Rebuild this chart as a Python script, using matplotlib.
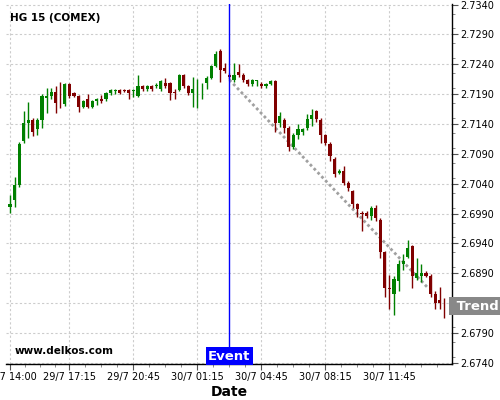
import matplotlib
matplotlib.use("Agg")
import matplotlib.pyplot as plt
import matplotlib.transforms as mtransforms
from matplotlib.ticker import FixedLocator, MultipleLocator, FuncFormatter

opens = [2.7001, 2.7012, 2.7037, 2.7112, 2.7142, 2.7147, 2.7131, 2.7147, 2.7183, 2.7187,
         2.7193, 2.7174, 2.7173, 2.7207, 2.7192, 2.7187, 2.7168, 2.7182, 2.7168, 2.7178,
         2.7182, 2.7182, 2.7192, 2.7195, 2.7197, 2.7197, 2.7197, 2.7195, 2.7187, 2.7203,
         2.7198, 2.7203, 2.7203, 2.7198, 2.7208, 2.7208, 2.7194, 2.7197, 2.7222, 2.7203,
         2.7192, 2.7203, 2.7203, 2.7208, 2.7217, 2.7237, 2.7263, 2.7233, 2.7222, 2.7213,
         2.7227, 2.7222, 2.7213, 2.7207, 2.7212, 2.7207, 2.7203, 2.7207, 2.7212, 2.7142,
         2.7147, 2.7133, 2.7102, 2.7122, 2.7127, 2.7134, 2.7149, 2.7161, 2.7147, 2.7122,
         2.7107, 2.7081, 2.7058, 2.7062, 2.7042, 2.7027, 2.7006, 2.6991, 2.6991, 2.6986,
         2.7000, 2.6980, 2.6926, 2.6865, 2.6856, 2.6877, 2.6905, 2.6917, 2.6936, 2.6882,
         2.6886, 2.6891, 2.6886, 2.6856, 2.6846, 2.6837]
highs = [2.7021, 2.7051, 2.7110, 2.7161, 2.7177, 2.7150, 2.7150, 2.7190, 2.7201, 2.7200,
         2.7204, 2.7211, 2.7209, 2.7209, 2.7194, 2.7189, 2.7180, 2.7190, 2.7180, 2.7184,
         2.7188, 2.7194, 2.7199, 2.7199, 2.7199, 2.7199, 2.7199, 2.7199, 2.7222, 2.7206,
         2.7206, 2.7206, 2.7208, 2.7214, 2.7217, 2.7211, 2.7198, 2.7224, 2.7224, 2.7206,
         2.7219, 2.7215, 2.7208, 2.7220, 2.7239, 2.7262, 2.7266, 2.7243, 2.7225, 2.7242,
         2.7240, 2.7225, 2.7215, 2.7216, 2.7214, 2.7210, 2.7209, 2.7214, 2.7213, 2.7160,
         2.7150, 2.7136, 2.7125, 2.7140, 2.7133, 2.7156, 2.7165, 2.7163, 2.7150, 2.7124,
         2.7110, 2.7084, 2.7064, 2.7069, 2.7045, 2.7029, 2.7008, 2.6995, 2.6994, 2.7002,
         2.7005, 2.6982, 2.6928, 2.6887, 2.6885, 2.6912, 2.6922, 2.6946, 2.6938, 2.6915,
         2.6905, 2.6893, 2.6889, 2.6860, 2.6867, 2.6848]
lows = [2.6991, 2.7001, 2.7035, 2.7108, 2.7117, 2.7120, 2.7122, 2.7133, 2.7159, 2.7182,
        2.7159, 2.7166, 2.7170, 2.7184, 2.7185, 2.7160, 2.7166, 2.7166, 2.7166, 2.7172,
        2.7175, 2.7178, 2.7188, 2.7190, 2.7190, 2.7193, 2.7182, 2.7186, 2.7185, 2.7195,
        2.7195, 2.7195, 2.7200, 2.7195, 2.7200, 2.7180, 2.7182, 2.7195, 2.7200, 2.7188,
        2.7169, 2.7167, 2.7182, 2.7198, 2.7215, 2.7235, 2.7210, 2.7226, 2.7215, 2.7210,
        2.7219, 2.7210, 2.7204, 2.7203, 2.7204, 2.7200, 2.7200, 2.7205, 2.7127, 2.7135,
        2.7125, 2.7095, 2.7098, 2.7115, 2.7122, 2.7130, 2.7137, 2.7143, 2.7108, 2.7104,
        2.7078, 2.7052, 2.7056, 2.7038, 2.7028, 2.7000, 2.6985, 2.6960, 2.6983, 2.6980,
        2.6978, 2.6915, 2.6850, 2.6830, 2.6820, 2.6860, 2.6895, 2.6915, 2.6865, 2.6878,
        2.6876, 2.6884, 2.6850, 2.6830, 2.6830, 2.6815]
closes = [2.7006, 2.7037, 2.7107, 2.7142, 2.7147, 2.7127, 2.7147, 2.7187, 2.7187, 2.7193,
          2.7175, 2.7173, 2.7207, 2.7187, 2.7187, 2.7168, 2.7178, 2.7168, 2.7178, 2.7182,
          2.7178, 2.7192, 2.7197, 2.7197, 2.7192, 2.7195, 2.7192, 2.7197, 2.7203, 2.7198,
          2.7203, 2.7198, 2.7205, 2.7212, 2.7204, 2.7192, 2.7192, 2.7222, 2.7203, 2.7192,
          2.7198, 2.7204, 2.7204, 2.7217, 2.7237, 2.7257, 2.7231, 2.7228, 2.7218, 2.7222,
          2.7222, 2.7213, 2.7207, 2.7213, 2.7213, 2.7203, 2.7207, 2.7212, 2.7142, 2.7153,
          2.7133, 2.7102, 2.7122, 2.7131, 2.7131, 2.7149, 2.7155, 2.7148, 2.7122, 2.7108,
          2.7087, 2.7056, 2.7062, 2.7042, 2.7032, 2.7006, 2.6997, 2.6989, 2.6986, 2.7000,
          2.6982, 2.6926, 2.6865, 2.6864, 2.6880, 2.6905, 2.6911, 2.6932, 2.6886, 2.6891,
          2.6891, 2.6886, 2.6856, 2.6841, 2.6841, 2.6836]

tick_positions = [0, 13, 27, 41, 55, 69, 83]
tick_labels = ["29/7 14:00", "29/7 17:15", "29/7 20:45", "30/7 01:15",
               "30/7 04:45", "30/7 08:15", "30/7 11:45"]
event_index = 48
trend_x = [48, 91.5]
trend_y = [2.7214, 2.6865]
trend_label_price = 2.6835
title = "HG 15 (COMEX)"

fig = plt.figure(figsize=(5, 4), dpi=100)
ax = fig.add_axes([0.012, 0.09, 0.892, 0.90])

up_color = "#008000"
dn_color = "#800000"
width = 0.68
for i, (o, h, l, c) in enumerate(zip(opens, highs, lows, closes)):
    col = up_color if c >= o else dn_color
    ax.vlines(i, l, h, color=col, linewidth=1.0, zorder=3)
    bottom = min(o, c)
    height = max(abs(c - o), 0.00012)
    ax.bar(i, height, width=width, bottom=bottom, color=col, edgecolor=col,
           linewidth=0.0, zorder=4)

# trend line
ax.plot(trend_x, trend_y, linestyle=(0, (1, 1)), color="#a0a0a0", linewidth=2.0, zorder=2)

# event line
ax.axvline(event_index, color="#0000ff", linewidth=1.0, zorder=5)

ax.set_xlim(-0.88, 96.7)
ax.set_ylim(2.6738, 2.7341)

for s in ["top", "left"]:
    ax.spines[s].set_visible(False)
ax.spines["bottom"].set_color("black")
ax.spines["right"].set_color("black")
ax.spines["bottom"].set_linewidth(1.0)
ax.spines["right"].set_linewidth(1.0)

ax.yaxis.tick_right()
ax.set_yticks([2.674 + 0.005 * k for k in range(13)])
ax.yaxis.set_minor_locator(MultipleLocator(0.0025))
ax.yaxis.set_major_formatter(FuncFormatter(lambda v, p: f"{v:.4f}"))

ax.set_xticks(tick_positions)
ax.set_xticklabels(tick_labels)
minor = []
for a, b in zip(tick_positions[:-1], tick_positions[1:]):
    for k in range(1, 4):
        minor.append(a + (b - a) * k / 4)
last_step = (tick_positions[-1] - tick_positions[-2]) / 4
for k in range(1, 4):
    minor.append(tick_positions[-1] + last_step * k)
ax.xaxis.set_minor_locator(FixedLocator(minor))

ax.tick_params(axis="both", which="major", labelsize=7, length=4, width=0.8,
               color="#555555", pad=2)
ax.tick_params(axis="both", which="minor", length=2, width=0.6, color="#777777")

ax.grid(True, which="major", color="#cccccc", linestyle=(0, (2, 2)), linewidth=0.8)
ax.set_axisbelow(True)

ax.set_xlabel("Date", fontsize=10, fontweight="bold", labelpad=2)

ax.text(0.01, 0.975, title, transform=ax.transAxes, fontsize=7.5, fontweight="bold",
        ha="left", va="top")
ax.text(0.02, 0.022, "www.delkos.com", transform=ax.transAxes, fontsize=7.5,
        fontweight="bold", ha="left", va="bottom")

blend = mtransforms.blended_transform_factory(ax.transData, ax.transAxes)
ax.text(event_index, 0.004, "Event", transform=blend, fontsize=9.5, fontweight="bold",
        color="white", ha="center", va="bottom", zorder=6,
        bbox=dict(facecolor="#0000ff", edgecolor="none", pad=1.8))

blend2 = mtransforms.blended_transform_factory(ax.transAxes, ax.transData)
ax.text(1.0, trend_label_price, " Trend", transform=blend2, fontsize=9.5,
        fontweight="bold", color="white", ha="left", va="center", zorder=6,
        bbox=dict(facecolor="#888888", edgecolor="none", pad=1.8), clip_on=False)

fig.savefig("out.png", dpi=100)
